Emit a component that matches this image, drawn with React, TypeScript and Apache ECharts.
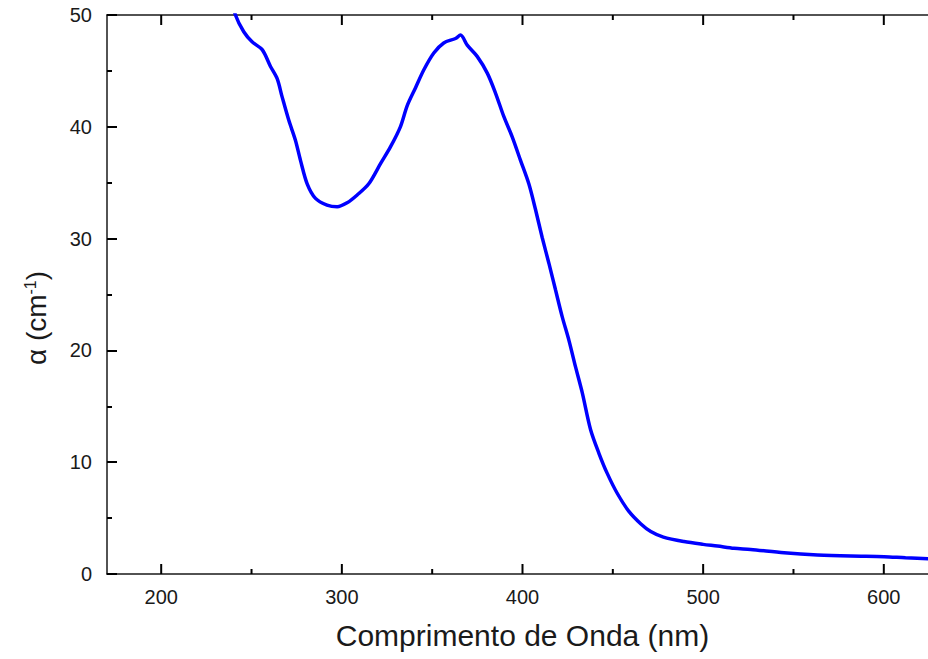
import React, { useEffect, useRef } from "react";
import * as echarts from "echarts";

const wavelengths = [
  238, 241.1, 245.7, 250.3, 255.9, 260.5, 264.2, 266.9, 270.6, 274.3, 277.1, 280.8, 285.4, 291.8, 297.4,
  302.9, 308.5, 314.9, 321.4, 326.9, 332.4, 336.2, 340.8, 345.4, 350.9, 356.4, 362.9, 365.7, 369.4,
  374.9, 380.5, 385.1, 389.7, 394.3, 398.9, 403.5, 407.2, 410.9, 414.6, 418.3, 422.0, 425.7, 429.4,
  433.1, 437.7, 442.3, 446.9, 452.5, 458.9, 465.4, 471.0, 478.0, 489.4, 500.0, 507.9, 517.1, 526.3,
  544.8, 563.3, 581.7, 600.2, 612.0, 624.9, 632.0,
];
const absorption = [
  52.0, 50.0, 48.5, 47.6, 46.9, 45.4, 44.3, 42.7, 40.6, 38.8, 37.0, 34.9, 33.6, 33.0, 32.85,
  33.2, 33.9, 34.9, 36.7, 38.2, 40.0, 41.9, 43.5, 45.1, 46.6, 47.5, 47.9, 48.2, 47.3,
  46.3, 44.8, 43.0, 40.9, 39.1, 37.0, 34.9, 32.6, 30.1, 27.8, 25.4, 23.0, 20.9, 18.5,
  16.2, 12.9, 10.8, 9.0, 7.2, 5.6, 4.5, 3.8, 3.3, 2.9, 2.65, 2.5, 2.3, 2.2,
  1.9, 1.7, 1.6, 1.55, 1.45, 1.37, 1.35,
];
const xTicks = [200, 300, 400, 500, 600];
const xMinorTicks = [250, 350, 450, 550];
const yTicks = [0, 10, 20, 30, 40, 50];
const X_MIN = 170;
const X_MAX = 630;
const Y_MIN = 0;
const Y_MAX = 50;

const xTitle = "Comprimento de Onda (nm)";
const yTitle = "{n|α (cm}{s|-1}{n|)}";

export default function App() {
  const ref = useRef<HTMLDivElement>(null);
  useEffect(() => {
    if (!ref.current) return;
    const chart = echarts.init(ref.current, null, { renderer: "svg" });
    const font = "'Liberation Sans', Arial, sans-serif";
    const ink = "#1a1a1a";
    const lineStyle = { color: ink, width: 1.5 };
    const tickStyle = { color: "#000000", width: 2 };

    // x-axis tick marks (bottom and top, pointing inward) placed via the axis scales
    const tickSeries = (values: number[], len: number) => ({
      type: "custom",
      xAxisIndex: 0,
      yAxisIndex: 0,
      silent: true,
      clip: false,
      data: values.map((v) => [v, Y_MIN]),
      renderItem: (_params: any, api: any) => {
        const x = api.coord([api.value(0), Y_MIN])[0];
        const yBottom = api.coord([api.value(0), Y_MIN])[1];
        const yTop = api.coord([api.value(0), Y_MAX])[1];
        const style = { stroke: "#000000", lineWidth: 2 };
        return {
          type: "group",
          children: [
            { type: "line", shape: { x1: x, y1: yBottom, x2: x, y2: yBottom - len }, style },
            { type: "line", shape: { x1: x, y1: yTop, x2: x, y2: yTop + len }, style },
          ],
        };
      },
    });

    const data = wavelengths.map((w, i) => [w, absorption[i]]);
    chart.setOption({
      animation: false,
      backgroundColor: "#ffffff",
      grid: { left: 107, top: 15, bottom: 85, right: 2, containLabel: false },
      xAxis: [
        {
          type: "value",
          min: X_MIN,
          max: X_MAX,
          position: "bottom",
          splitLine: { show: false },
          axisLine: { show: true, onZero: false, lineStyle },
          axisTick: { show: false },
          axisLabel: {
            show: true,
            customValues: xTicks,
            margin: 13,
            fontFamily: font,
            fontSize: 20,
            color: ink,
          },
          name: xTitle,
          nameLocation: "middle",
          nameGap: 46,
          nameTextStyle: { fontFamily: font, fontSize: 30, color: ink },
        },
        {
          type: "value",
          min: X_MIN,
          max: X_MAX,
          position: "top",
          splitLine: { show: false },
          axisLine: { show: true, onZero: false, lineStyle },
          axisTick: { show: false },
          axisLabel: { show: false },
        },
      ],
      yAxis: [
        {
          type: "value",
          position: "left",
          min: Y_MIN,
          max: Y_MAX,
          interval: 10,
          axisLine: { show: true, onZero: false, lineStyle },
          axisTick: { show: true, inside: true, length: 10, lineStyle: tickStyle },
          minorTick: { show: true, splitNumber: 2, length: 5, lineStyle: tickStyle },
          splitLine: { show: false },
          axisLabel: {
            margin: 15,
            fontFamily: font,
            fontSize: 20,
            color: ink,
            customValues: yTicks,
          },
        },
        {
          type: "value",
          position: "right",
          min: Y_MIN,
          max: Y_MAX,
          interval: 10,
          axisLine: { show: true, onZero: false, lineStyle },
          axisTick: { show: true, inside: true, length: 10, lineStyle: tickStyle },
          minorTick: { show: true, splitNumber: 2, length: 5, lineStyle: tickStyle },
          splitLine: { show: false },
          axisLabel: { show: false },
        },
      ],
      graphic: [
        {
          type: "text",
          x: 36,
          y: 318,
          rotation: Math.PI / 2,
          style: {
            text: yTitle,
            align: "center",
            verticalAlign: "middle",
            rich: {
              n: { fontFamily: font, fontSize: 28, fill: ink, color: ink },
              s: { fontFamily: font, fontSize: 16, fill: ink, color: ink, verticalAlign: "top", padding: [0, 0, 12, 0] },
            },
          },
        },
      ],
      series: [
        tickSeries(xTicks, 10),
        tickSeries(xMinorTicks, 5),
        {
          type: "line",
          data,
          xAxisIndex: 0,
          yAxisIndex: 0,
          showSymbol: false,
          smooth: 0.3,
          clip: true,
          lineStyle: { color: "#0000ff", width: 3.5 },
        },
      ],
    });
    return () => chart.dispose();
  }, []);
  return (
    <div style={{ position: "absolute", left: 0, top: 0, width: 928, height: 659, overflow: "hidden" }}>
      <div ref={ref} style={{ width: 940, height: 659 }} />
    </div>
  );
}
